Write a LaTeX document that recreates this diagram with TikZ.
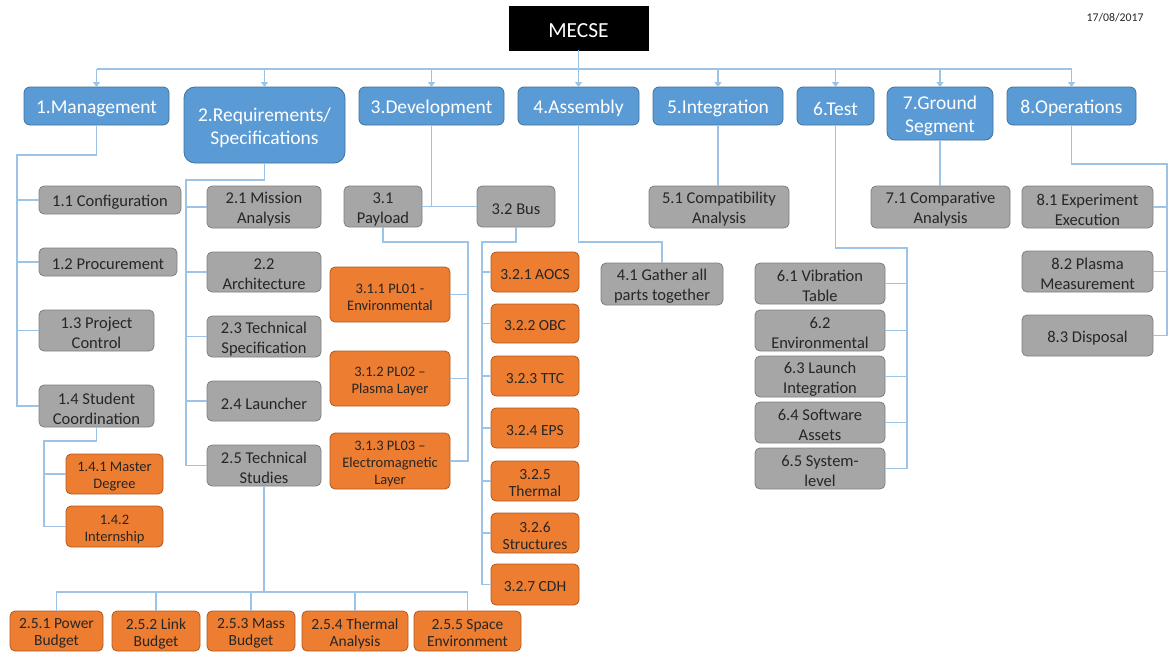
\documentclass[tikz,border=0pt]{standalone}
\usepackage{fontspec}
\setmainfont{Carlito}
\usetikzlibrary{arrows.meta}

\definecolor{topfill}{HTML}{5B9BD5}
\definecolor{topline}{HTML}{41719C}
\definecolor{greyfill}{HTML}{A6A6A6}
\definecolor{greyline}{HTML}{7F7F7F}
\definecolor{orangefill}{HTML}{ED7D31}
\definecolor{orangeline}{HTML}{AE5A21}
\definecolor{linkcol}{HTML}{9DC3E6}
\definecolor{darktext}{HTML}{262626}

% box from its corners: style, name, x1, y1, x2, y2, text
% the label sits slightly below the geometric centre, as in an office layout
\newcommand\wbsbox[7]{%
  \node[#1, minimum width={(#5-#3)*1pt}, minimum height={(#6-#4)*1pt}]
    (#2) at ({(#3+#5)/2},{(#4+#6)/2}) {};
  \node[#1, draw=none, fill=none, minimum width=0pt, minimum height=0pt]
    at ([yshift=-2.5pt]#2.center) {#7};}

\begin{document}
\begin{tikzpicture}[x=1pt,y=-1pt,
  basebox/.style={inner sep=0pt, outer sep=0pt, align=center, line width=0.8pt},
  rootbox/.style={basebox, fill=black, draw=black, text=white,
    font=\fontsize{21.5}{24}\selectfont},
  topbox/.style={basebox, fill=topfill, draw=topline, text=white,
    rounded corners=6pt, font=\fontsize{19.5}{23}\selectfont},
  greybox/.style={basebox, fill=greyfill, draw=greyline, text=darktext,
    rounded corners=5pt, font=\fontsize{16.5}{20}\selectfont},
  orangebox/.style={basebox, fill=orangefill, draw=orangeline, text=darktext,
    rounded corners=5pt, font=\fontsize{14.5}{17}\selectfont},
  busorange/.style={orangebox, font=\fontsize{15.5}{17}\selectfont},
  conn/.style={draw=linkcol, line width=1.3pt},
  connarrow/.style={conn, -{Triangle[width=7pt,length=5pt]}}]
\useasboundingbox (0,0) rectangle (1172,653);

% ---------- root and date ----------
\wbsbox{rootbox}{root}{509}{6}{648}{50}{MECSE}
\node[font=\fontsize{11.8}{14}\selectfont, text=darktext] (date) at (1115,18) {17/08/2017};

% ---------- work packages ----------
\wbsbox{topbox}{m1}{24}{87}{169}{125}{1.Management}
\wbsbox{topbox,rounded corners=11pt}{m2}{184}{87}{345}{163}{2.Requirements/\\Specifications}
\wbsbox{topbox}{m3}{359}{87}{504}{125}{3.Development}
\wbsbox{topbox}{m4}{518}{87}{639}{125}{4.Assembly}
\wbsbox{topbox}{m5}{653}{87}{783}{125}{5.Integration}
\wbsbox{topbox}{m6}{797}{87}{874}{125}{6.Test}
\wbsbox{topbox,rounded corners=8pt}{m7}{887}{87}{993}{140}{7.Ground\\Segment}
\wbsbox{topbox}{m8}{1007}{87}{1136}{125}{8.Operations}

\coordinate (topbus) at (579,69);
\draw[conn] (root.south) -- (root.south |- topbus);
\draw[conn] (m1.north |- topbus) -- (m8.north |- topbus);
\foreach \n in {m1,m2,m3,m4,m5,m6,m7,m8}
  \draw[connarrow] (\n.north |- topbus) -- (\n.north);

% ---------- 1. Management ----------
\wbsbox{greybox}{a11}{39}{186}{181}{214}{1.1 Configuration}
\wbsbox{greybox}{a12}{39}{248}{177}{276}{1.2 Procurement}
\wbsbox{greybox}{a13}{39}{310}{154}{351}{1.3 Project\\Control}
\wbsbox{greybox}{a14}{39}{385}{154}{427}{1.4 Student\\Coordination}
\wbsbox{orangebox}{a141}{66}{454}{163}{494}{1.4.1 Master\\Degree}
\wbsbox{orangebox}{a142}{66}{506}{163}{547}{1.4.2\\Internship}

\coordinate (bus1) at (17,155);
\draw[conn] (m1.south) |- (bus1) |- (a14.west);
\foreach \n in {a11,a12,a13} \draw[conn] (bus1 |- \n.west) -- (\n.west);
\coordinate (bus14) at (44,441);
\draw[conn] (a14.south) |- (bus14) |- (a142.west);
\draw[conn] (bus14 |- a141.west) -- (a141.west);

% ---------- 2. Requirements / Specifications ----------
\wbsbox{greybox}{b21}{207}{186}{321}{228}{2.1 Mission\\Analysis}
\wbsbox{greybox}{b22}{207}{252}{321}{292}{2.2\\Architecture}
\wbsbox{greybox}{b23}{207}{316}{321}{357}{2.3 Technical\\Specification}
\wbsbox{greybox}{b24}{207}{381}{321}{421}{2.4 Launcher}
\wbsbox{greybox}{b25}{207}{445}{321}{486}{2.5 Technical\\Studies}

\coordinate (bus2) at (186,180);
\draw[conn] (m2.south) |- (bus2) |- (b25.west);
\foreach \n in {b21,b22,b23,b24} \draw[conn] (bus2 |- \n.west) -- (\n.west);

\wbsbox{busorange}{b251}{10}{611}{103}{651}{2.5.1 Power\\Budget}
\wbsbox{busorange}{b252}{112}{611}{200}{651}{2.5.2 Link\\Budget}
\wbsbox{busorange}{b253}{207}{611}{295}{651}{2.5.3 Mass\\Budget}
\wbsbox{busorange}{b254}{302}{611}{408}{651}{2.5.4 Thermal\\Analysis}
\wbsbox{busorange}{b255}{414}{611}{521}{651}{2.5.5 Space\\Environment}

\coordinate (bus25) at (265,592);
\draw[conn] (b25.south) -- (b25.south |- bus25);
\draw[conn] (b251.north) |- (bus25) -| (b255.north);
\foreach \n in {b252,b253,b254} \draw[conn] (\n.north |- bus25) -- (\n.north);

% ---------- 3. Development ----------
\wbsbox{greybox}{c31}{344}{186}{422}{227}{3.1\\Payload}
\wbsbox{greybox}{c32}{477}{186}{555}{227}{3.2 Bus}
\draw[conn] (m3.south) -- (m3.south |- c32.west);
\draw[conn] (c31.east) -- (c32.west);

\wbsbox{orangebox}{c311}{330}{267}{450}{322}{3.1.1 PL01 -\\Environmental}
\wbsbox{orangebox}{c312}{330}{351}{450}{406}{3.1.2 PL02 –\\Plasma Layer}
\wbsbox{orangebox}{c313}{330}{433}{450}{489}{3.1.3 PL03 –\\Electromagnetic\\Layer}

\coordinate (bus31) at (468,242);
\draw[conn] (c31.south) |- (bus31) |- (c313.east);
\foreach \n in {c311,c312} \draw[conn] (\n.east) -- (\n.east -| bus31);

\wbsbox{busorange}{c321}{491}{252}{579}{292}{3.2.1 AOCS}
\wbsbox{busorange}{c322}{491}{304}{579}{343}{3.2.2 OBC}
\wbsbox{busorange}{c323}{491}{356}{579}{396}{3.2.3 TTC}
\wbsbox{busorange}{c324}{491}{408}{579}{448}{3.2.4 EPS}
\wbsbox{busorange}{c325}{491}{461}{579}{501}{3.2.5\\Thermal}
\wbsbox{busorange}{c326}{491}{513}{579}{553}{3.2.6\\Structures}
\wbsbox{busorange}{c327}{491}{564}{579}{605}{3.2.7 CDH}

\coordinate (bus32) at (482,242);
\draw[conn] (c32.south) |- (bus32) |- (c327.west);
\foreach \n in {c321,c322,c323,c324,c325,c326} \draw[conn] (bus32 |- \n.west) -- (\n.west);

% ---------- 4. Assembly ----------
\wbsbox{greybox}{d41}{601}{263}{723}{305}{4.1 Gather all\\parts together}
\coordinate (bus4) at (662,242);
\draw[conn] (m4.south) |- (bus4) -- (d41.north);

% ---------- 5. Integration ----------
\wbsbox{greybox}{e51}{649}{186}{789}{228}{5.1 Compatibility\\Analysis}
\draw[conn] (m5.south) -- (m5.south |- e51.north);

% ---------- 6. Test ----------
\wbsbox{greybox}{f61}{755}{263}{885}{304}{6.1 Vibration\\Table}
\wbsbox{greybox}{f62}{755}{310}{885}{351}{6.2\\Environmental}
\wbsbox{greybox}{f63}{755}{356}{885}{397}{6.3 Launch\\Integration}
\wbsbox{greybox}{f64}{755}{402}{885}{443}{6.4 Software\\Assets}
\wbsbox{greybox}{f65}{755}{448}{885}{489}{6.5 System-\\level}

\coordinate (bus6) at (907,248);
\draw[conn] (m6.south) |- (bus6) |- (f65.east);
\foreach \n in {f61,f62,f63,f64} \draw[conn] (\n.east) -- (\n.east -| bus6);

% ---------- 7. Ground Segment ----------
\wbsbox{greybox}{g71}{871}{186}{1010}{228}{7.1 Comparative\\Analysis}
\draw[conn] (m7.south) -- (m7.south |- g71.north);

% ---------- 8. Operations ----------
\wbsbox{greybox}{h81}{1022}{186}{1153}{228}{8.1 Experiment\\Execution}
\wbsbox{greybox}{h82}{1022}{251}{1153}{292}{8.2 Plasma\\Measurement}
\wbsbox{greybox}{h83}{1022}{315}{1153}{356}{8.3 Disposal}

\coordinate (bus8) at (1167,164);
\draw[conn] (m8.south) |- (bus8) |- (h83.east);
\foreach \n in {h81,h82} \draw[conn] (\n.east) -- (\n.east -| bus8);
\end{tikzpicture}
\end{document}
